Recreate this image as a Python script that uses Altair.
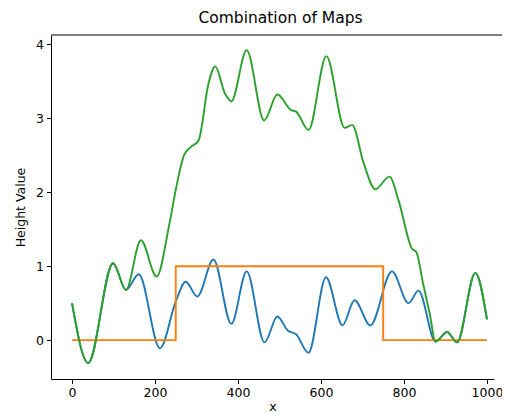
import altair as alt
import pandas as pd

# Noise map (blue)
noise_x = [0, 39, 99, 130, 161, 212, 250, 274, 302, 341, 384, 421, 464, 495, 520, 540,
           570, 612, 652, 681, 719, 771, 811, 835, 876, 904, 928, 972, 1000]
noise_y = [0.50, -0.31, 1.04, 0.68, 0.89, -0.11, 0.52, 0.79, 0.59, 1.09, 0.22, 0.93, -0.03, 0.32, 0.13, 0.08,
           -0.17, 0.85, 0.20, 0.54, 0.20, 0.93, 0.50, 0.67, -0.02, 0.11, -0.03, 0.91, 0.28]

# Step map (orange)
step_x = [0, 250, 750, 1000]
step_y = [0, 1, 0, 0]

# Combined map (green)
comb_x = [0, 39, 99, 130, 166, 204, 234, 250, 270, 286, 305, 329, 345, 369, 384, 421, 463,
          495, 528, 540, 570, 613, 657, 675, 703, 731, 765, 787, 819, 830, 846, 862, 876,
          904, 928, 972, 1000]
comb_y = [0.50, -0.31, 1.04, 0.68, 1.35, 0.86, 1.55, 2.03, 2.50, 2.61, 2.70, 3.47, 3.70, 3.33, 3.23, 3.92, 2.97,
          3.32, 3.11, 3.09, 2.84, 3.84, 2.87, 2.91, 2.39, 2.04, 2.21, 1.89, 1.24, 1.19, 0.77, 0.36, -0.02,
          0.11, -0.03, 0.91, 0.28]

df_noise = pd.DataFrame({"x": noise_x, "y": noise_y})
df_step = pd.DataFrame({"x": step_x, "y": step_y})
df_comb = pd.DataFrame({"x": comb_x, "y": comb_y})

W, H = 443, 344

xs = alt.Scale(domain=[-50.6, 1017], nice=False, zero=False)
ys = alt.Scale(domain=[-0.525, 4.125], nice=False, zero=False)

xenc = alt.X("x:Q", scale=xs, title="x",
             axis=alt.Axis(values=[0, 200, 400, 600, 800, 1000], format="d"))
yenc = alt.Y("y:Q", scale=ys, title="Height Value",
             axis=alt.Axis(values=[0, 1, 2, 3, 4], format="d"))

lw = 1.9
blue = alt.Chart(df_noise).mark_line(color="#1f77b4", strokeWidth=lw, interpolate="monotone").encode(x=xenc, y=yenc)
orange = alt.Chart(df_step).mark_line(color="#ff7f0e", strokeWidth=lw, interpolate="step-after").encode(x=xenc, y=yenc)
green = alt.Chart(df_comb).mark_line(color="#2ca02c", strokeWidth=lw, interpolate="monotone").encode(x=xenc, y=yenc)

# top spine (the right spine lies beyond the cropped picture)
top_spine = alt.Chart(pd.DataFrame({"a": [0]})).mark_rule(color="black", strokeWidth=1).encode(
    x=alt.value(0), x2=alt.value(W + 8), y=alt.value(0)
)

chart = alt.layer(blue, orange, green, top_spine).properties(
    width=W, height=H,
    title=alt.TitleParams("Combination of Maps", fontSize=15.5, fontWeight="normal",
                          font="DejaVu Sans", color="black", offset=8, anchor="middle", dx=8),
    autosize=alt.AutoSizeParams(type="none"),
    padding={"left": 43, "top": 27, "right": 8, "bottom": 34},
).configure_view(
    strokeWidth=0
).configure_axis(
    grid=False, domainColor="black", tickColor="black", labelColor="black",
    labelFont="DejaVu Sans", labelFontSize=12.5, titleFont="DejaVu Sans",
    titleFontSize=12.5, titleFontWeight="normal", titleColor="black",
    tickSize=4.5, labelPadding=3, domainWidth=1, tickWidth=1
).configure_axisY(titlePadding=8).configure_axisX(titlePadding=1)

chart.save("out.html", embed_options={"renderer": "svg", "actions": False})
